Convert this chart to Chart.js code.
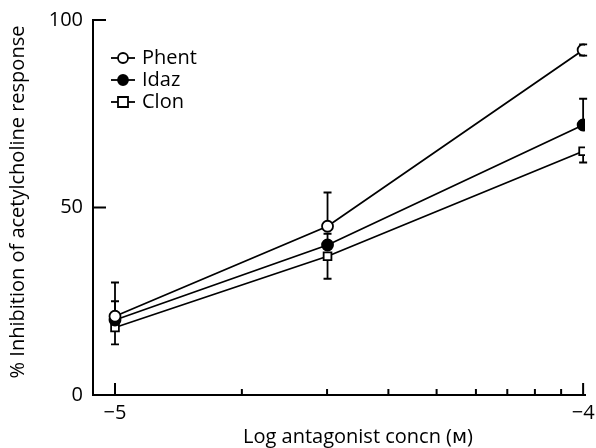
<!DOCTYPE html>
<html>
<head>
<meta charset="utf-8">
<script src="https://cdn.jsdelivr.net/npm/chart.js@4.4.1/dist/chart.umd.min.js"></script>
<style>
    html, body { margin: 0; padding: 0; background: #fff; }
</style>
</head>
<body>
<canvas id="line-chart" width="596" height="448"></canvas>
<script>
// data
const xLog = [-5, -4.546, -4];
const seriesNames = ['Phent', 'Idaz', 'Clon'];
const phent = [21, 45, 92];
const idaz = [20, 40, 72];
const clon = [18, 37, 65];
const phentErrUp = [9, 9, 1.5];
const phentErrDown = [0, 0, 1.5];
const idazErrUp = [5, 3, 7];
const idazErrDown = [0, 0, 0];
const clonErrUp = [0, 0, 0];
const clonErrDown = [4.5, 6, 3];

// axis ticks
const xTickLabels = [-5, -4];
const xMinorTicks = [-4.729, -4.547, -4.416, -4.313, -4.229, -4.162, -4.103, -4.047];
const yTickLabels = [0, 50, 100];

const xTitle = 'Log antagonist concn (\u1D0D)';
const yTitle = '% Inhibition of acetylcholine response';

const FONT = '"Open Sans", "DejaVu Sans", sans-serif';
const FONT_SIZE = 20;

const toPoints = (ys) => ys.map((y, i) => ({ x: xLog[i], y: y }));

const datasets = [
    { label: seriesNames[0], data: toPoints(phent), pointStyle: 'circle', pointBackgroundColor: '#fff', up: phentErrUp, down: phentErrDown },
    { label: seriesNames[1], data: toPoints(idaz), pointStyle: 'circle', pointBackgroundColor: '#000', up: idazErrUp, down: idazErrDown },
    { label: seriesNames[2], data: toPoints(clon), pointStyle: 'rect', pointBackgroundColor: '#fff', up: clonErrUp, down: clonErrDown },
].map(ds => Object.assign(ds, {
    borderColor: '#000',
    borderWidth: 1.8,
    pointBorderColor: '#000',
    pointBorderWidth: 1.8,
    pointRadius: 5.5,
    fill: false,
    tension: 0,
}));

const extras = {
    id: 'extras',
    beforeDatasetsDraw(chart) {
        const ctx = chart.ctx;
        const xs = chart.scales.x;
        const ys = chart.scales.y;
        ctx.save();
        ctx.strokeStyle = '#000';
        ctx.lineWidth = 1.8;
        // error bars
        chart.data.datasets.forEach((ds) => {
            ds.data.forEach((p, i) => {
                const px = xs.getPixelForValue(p.x);
                [[ds.up[i], 1], [ds.down[i], -1]].forEach(([e, s]) => {
                    if (!e) return;
                    const y0 = ys.getPixelForValue(p.y);
                    const y1 = ys.getPixelForValue(p.y + s * e);
                    ctx.beginPath();
                    ctx.moveTo(px, y0);
                    ctx.lineTo(px, y1);
                    ctx.moveTo(px - 4, y1);
                    ctx.lineTo(px + 4, y1);
                    ctx.stroke();
                });
            });
        });
        // inward ticks
        ctx.lineWidth = 2;
        const bottom = chart.chartArea.bottom;
        const left = chart.chartArea.left;
        ctx.beginPath();
        xTickLabels.forEach((v) => {
            const px = xs.getPixelForValue(v);
            ctx.moveTo(px, bottom);
            ctx.lineTo(px, bottom - 12);
        });
        xMinorTicks.forEach((v) => {
            const px = xs.getPixelForValue(v);
            ctx.moveTo(px, bottom);
            ctx.lineTo(px, bottom - 6);
        });
        yTickLabels.slice(1).forEach((v) => {
            const py = ys.getPixelForValue(v);
            ctx.moveTo(left, py);
            ctx.lineTo(left + 13, py);
        });
        ctx.stroke();
        ctx.restore();
    },
    afterDraw(chart) {
        const ctx = chart.ctx;
        ctx.save();
        ctx.fillStyle = '#000';
        ctx.strokeStyle = '#000';
        ctx.font = FONT_SIZE + 'px ' + FONT;
        ctx.textBaseline = 'middle';

        // legend
        chart.data.datasets.forEach((ds, i) => {
            const y = 58 + i * 22;
            const mx = 123;
            ctx.lineWidth = 1.8;
            ctx.beginPath();
            ctx.moveTo(mx - 12, y);
            ctx.lineTo(mx + 12, y);
            ctx.stroke();
            ctx.fillStyle = ds.pointBackgroundColor;
            ctx.beginPath();
            if (ds.pointStyle === 'rect') {
                ctx.rect(mx - 5, y - 5, 10, 10);
            } else {
                ctx.arc(mx, y, 5, 0, Math.PI * 2);
            }
            ctx.fill();
            ctx.stroke();
            ctx.fillStyle = '#000';
            ctx.textAlign = 'left';
            ctx.fillText(ds.label, 142, y);
        });

        // axis titles
        ctx.textAlign = 'center';
        ctx.fillText(xTitle, 358, 437);
        ctx.translate(18, 202);
        ctx.rotate(-Math.PI / 2);
        ctx.fillText(yTitle, 0, 0);
        ctx.restore();
    }
};

new Chart(document.getElementById('line-chart'), {
    type: 'line',
    data: { datasets: datasets },
    options: {
        responsive: false,
        animation: false,
        devicePixelRatio: 1,
        layout: { padding: { top: 20, right: 11, left: 0, bottom: 0 } },
        plugins: { legend: { display: false }, tooltip: { enabled: false } },
        scales: {
            x: {
                type: 'linear',
                min: -5.047,
                max: -3.996,
                grid: { display: false, drawTicks: false },
                border: { display: true, color: '#000', width: 2 },
                afterBuildTicks: (scale) => { scale.ticks = xTickLabels.map(v => ({ value: v })); },
                afterFit: (scale) => {
                    scale.height = 53;
                    scale.paddingLeft = 0;
                    scale.paddingRight = 0;
                },
                ticks: {
                    color: '#000',
                    padding: 6,
                    font: { family: FONT, size: FONT_SIZE },
                    callback: (v) => (v < 0 ? '\u2212' : '') + Math.abs(v),
                },
            },
            y: {
                min: 0,
                max: 100,
                grid: { display: false, drawTicks: false },
                border: { display: true, color: '#000', width: 2 },
                afterBuildTicks: (scale) => { scale.ticks = yTickLabels.map(v => ({ value: v })); },
                afterFit: (scale) => {
                    scale.width = 93;
                    scale.paddingTop = 0;
                    scale.paddingBottom = 0;
                },
                ticks: {
                    color: '#000',
                    padding: 10,
                    font: { family: FONT, size: FONT_SIZE },
                },
            },
        },
    },
    plugins: [extras],
});
</script>
</body>
</html>
